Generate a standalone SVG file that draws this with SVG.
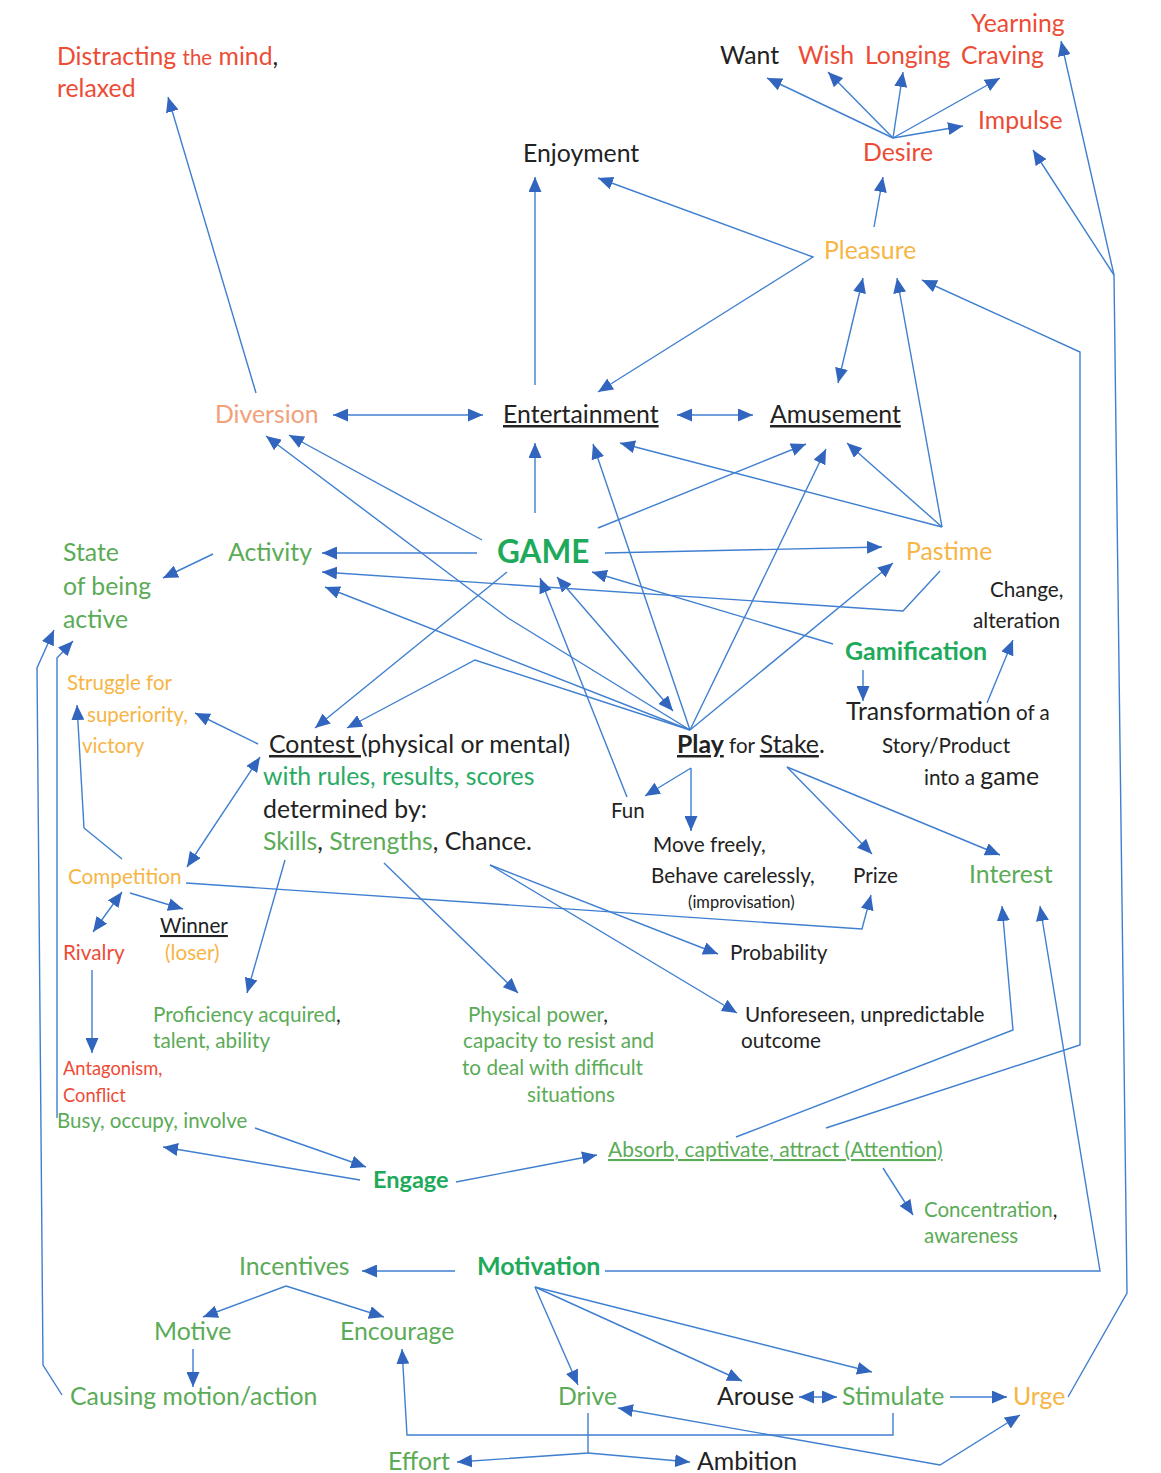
<svg xmlns="http://www.w3.org/2000/svg" width="1161" height="1473" viewBox="0 0 1161 1473">
<style>
text{font-family:Lato,"Open Sans","Liberation Sans",sans-serif;font-size:24.8px}
.red{fill:#EE4B35}.org{fill:#F6B545}.sal{fill:#F2A07A}.grn{fill:#5BAB57}.bgr{fill:#1EAA5A;font-weight:bold}.mgr{fill:#28AB63}.blk{fill:#222}
.u{text-decoration:underline}
.s20{font-size:20.7px}.s19{font-size:20.5px}.s18{font-size:18.3px}.s15{font-size:16.5px}
.c path{fill:none;stroke:#3F7FD0;stroke-width:1.4}
</style>
<defs>
<marker id="a" markerUnits="userSpaceOnUse" markerWidth="15" markerHeight="13" viewBox="0 0 15 13" refX="15" refY="6.5" orient="auto-start-reverse"><path d="M0,0 L15,6.5 L0,13 z" fill="#3266BE"/></marker>
</defs>
<rect width="1161" height="1473" fill="#fff"/>
<g class="c" id="connectors">
<path d="M256,393 L168,97" marker-end="url(#a)"/>
<path d="M893,138 L767,78" marker-end="url(#a)"/>
<path d="M893,138 L828,72" marker-end="url(#a)"/>
<path d="M893,138 L903,72" marker-end="url(#a)"/>
<path d="M893,138 L1000,78" marker-end="url(#a)"/>
<path d="M893,138 L963,126" marker-end="url(#a)"/>
<path d="M874,227 L883,177" marker-end="url(#a)"/>
<path d="M598,178 L813,257 L598,392" marker-start="url(#a)" marker-end="url(#a)"/>
<path d="M535,385 L535,177" marker-end="url(#a)"/>
<path d="M838,383 L863,278" marker-start="url(#a)" marker-end="url(#a)"/>
<path d="M942,527 L897,278" marker-end="url(#a)"/>
<path d="M826,1128 L1080,1045 L1080,352 L922,280" marker-end="url(#a)"/>
<path d="M1068,1397 L1127,1293 L1114,275 L1061,41" marker-end="url(#a)"/>
<path d="M1114,275 L1033,150" marker-end="url(#a)"/>
<path d="M333,415 L483,415" marker-start="url(#a)" marker-end="url(#a)"/>
<path d="M677,415 L753,415" marker-start="url(#a)" marker-end="url(#a)"/>
<path d="M535,513 L535,443" marker-end="url(#a)"/>
<path d="M482,540 L289,435" marker-end="url(#a)"/>
<path d="M690,730 L508,618 L266,436" marker-end="url(#a)"/>
<path d="M557,577 L673,711" marker-start="url(#a)" marker-end="url(#a)"/>
<path d="M690,730 L593,444" marker-end="url(#a)"/>
<path d="M690,730 L826,449" marker-end="url(#a)"/>
<path d="M690,730 L893,563" marker-end="url(#a)"/>
<path d="M690,730 L325,587" marker-end="url(#a)"/>
<path d="M690,730 L475,660 L347,728" marker-end="url(#a)"/>
<path d="M477,553 L322,553" marker-end="url(#a)"/>
<path d="M940,571 L903,611 L322,572" marker-end="url(#a)"/>
<path d="M605,553 L882,547" marker-end="url(#a)"/>
<path d="M598,528 L806,444" marker-end="url(#a)"/>
<path d="M942,527 L847,443" marker-end="url(#a)"/>
<path d="M942,527 L620,443" marker-end="url(#a)"/>
<path d="M833,644 L592,572" marker-end="url(#a)"/>
<path d="M863,670 L863,701" marker-end="url(#a)"/>
<path d="M987,703 L1013,640" marker-end="url(#a)"/>
<path d="M507,572 L315,728" marker-end="url(#a)"/>
<path d="M213,554 L163,578" marker-end="url(#a)"/>
<path d="M258,744 L195,713" marker-end="url(#a)"/>
<path d="M122,859 L84,828 L77,705" marker-end="url(#a)"/>
<path d="M62,1395 L43,1365 L37,668 L54,630" marker-end="url(#a)"/>
<path d="M57,1118 L57,658 L73,641" marker-end="url(#a)"/>
<path d="M260,757 L187,867" marker-start="url(#a)" marker-end="url(#a)"/>
<path d="M186,883 L862,929 L871,895" marker-end="url(#a)"/>
<path d="M130,893 L183,909" marker-end="url(#a)"/>
<path d="M122,892 L93,932" marker-start="url(#a)" marker-end="url(#a)"/>
<path d="M92,970 L92,1053" marker-end="url(#a)"/>
<path d="M285,860 L247,993" marker-end="url(#a)"/>
<path d="M384,863 L518,993" marker-end="url(#a)"/>
<path d="M490,865 L718,954" marker-end="url(#a)"/>
<path d="M490,865 L737,1013" marker-end="url(#a)"/>
<path d="M691,768 L645,796" marker-end="url(#a)"/>
<path d="M691,768 L691,831" marker-end="url(#a)"/>
<path d="M787,767 L872,854" marker-end="url(#a)"/>
<path d="M787,767 L1000,855" marker-end="url(#a)"/>
<path d="M627,797 L540,578" marker-end="url(#a)"/>
<path d="M736,1137 L1013,1030 L1002,906" marker-end="url(#a)"/>
<path d="M605,1271 L1100,1271 L1040,906" marker-end="url(#a)"/>
<path d="M255,1128 L366,1167" marker-end="url(#a)"/>
<path d="M360,1180 L163,1147" marker-end="url(#a)"/>
<path d="M456,1182 L597,1155" marker-end="url(#a)"/>
<path d="M883,1168 L913,1215" marker-end="url(#a)"/>
<path d="M455,1271 L362,1271" marker-end="url(#a)"/>
<path d="M286,1286 L203,1317" marker-end="url(#a)"/>
<path d="M286,1286 L384,1317" marker-end="url(#a)"/>
<path d="M193,1349 L193,1387" marker-end="url(#a)"/>
<path d="M535,1287 L578,1385" marker-end="url(#a)"/>
<path d="M535,1287 L742,1381" marker-end="url(#a)"/>
<path d="M535,1287 L872,1372" marker-end="url(#a)"/>
<path d="M799,1397 L837,1397" marker-start="url(#a)" marker-end="url(#a)"/>
<path d="M950,1397 L1007,1397" marker-end="url(#a)"/>
<path d="M893,1413 L893,1435 L407,1435 L402,1349" marker-end="url(#a)"/>
<path d="M618,1408 L940,1465 L1020,1415" marker-start="url(#a)" marker-end="url(#a)"/>
<path d="M588,1413 L588,1453 L457,1462" marker-end="url(#a)"/>
<path d="M588,1453 L690,1462" marker-end="url(#a)"/>
</g>
<g id="n_distract"><text x="57" y="65" class="red">Distracting <tspan class="s19">the</tspan> mind<tspan class="blk">,</tspan></text><text x="57" y="97" class="red">relaxed</text></g>
<g id="n_want"><text x="720" y="64" class="blk">Want</text></g>
<g id="n_wish"><text x="798" y="64" class="red">Wish</text></g>
<g id="n_longing"><text x="865" y="64" class="red">Longing</text></g>
<g id="n_craving"><text x="961" y="64" class="red">Craving</text></g>
<g id="n_yearning"><text x="971" y="32" class="red">Yearning</text></g>
<g id="n_impulse"><text x="978" y="129" class="red">Impulse</text></g>
<g id="n_desire"><text x="863" y="161" class="red">Desire</text></g>
<g id="n_enjoyment"><text x="523" y="162" class="blk">Enjoyment</text></g>
<g id="n_pleasure"><text x="824" y="259" class="org">Pleasure</text></g>
<g id="n_diversion"><text x="215" y="423" class="sal">Diversion</text></g>
<g id="n_entertainment"><text x="503" y="423" class="blk u">Entertainment</text></g>
<g id="n_amusement"><text x="770" y="423" class="blk u">Amusement</text></g>
<g id="n_game"><text x="497" y="563" class="bgr" style="font-size:31.5px">GAME</text></g>
<g id="n_activity"><text x="228" y="561" class="grn">Activity</text></g>
<g id="n_state"><text x="63" y="561" class="grn">State</text><text x="63" y="595" class="grn">of being</text><text x="63" y="628" class="grn">active</text></g>
<g id="n_pastime"><text x="906" y="560" class="org">Pastime</text></g>
<g id="n_change"><text x="990" y="597" class="blk s20">Change,</text><text x="973" y="628" class="blk s20">alteration</text></g>
<g id="n_gamification"><text x="845" y="660" class="bgr" style="font-size:25px">Gamification</text></g>
<g id="n_transformation"><text x="846" y="720" class="blk">Transformation<tspan class="s19"> of a</tspan></text><text x="882" y="753" class="blk s20">Story/Product</text><text x="924" y="785" class="blk s20">into a <tspan style="font-size:24.8px">game</tspan></text></g>
<g id="n_struggle"><text x="67" y="690" class="org s19">Struggle for</text><text x="87" y="722" class="org s19">superiority,</text><text x="82" y="753" class="org s19">victory</text></g>
<g id="n_contest"><text x="269" y="753" class="blk"><tspan class="u">Contest </tspan>(physical or mental)</text><text x="263" y="785" class="mgr">with rules, results, scores</text><text x="263" y="818" class="blk">determined by:</text><text x="263" y="850" class="blk"><tspan class="grn">Skills</tspan>, <tspan class="grn">Strengths</tspan>, Chance.</text></g>
<g id="n_play"><text x="677" y="753" class="blk"><tspan class="u" font-weight="bold">Play</tspan><tspan class="s19"> for </tspan><tspan class="u">Stake</tspan>.</text></g>
<g id="n_fun"><text x="611" y="818" class="blk s19">Fun</text></g>
<g id="n_move"><text x="653" y="852" class="blk s20">Move freely,</text><text x="651" y="883" class="blk s20">Behave carelessly,</text><text x="688" y="908" class="blk s15">(improvisation)</text></g>
<g id="n_prize"><text x="853" y="883" class="blk s20">Prize</text></g>
<g id="n_interest"><text x="969" y="883" class="grn">Interest</text></g>
<g id="n_competition"><text x="68" y="884" class="org s20">Competition</text></g>
<g id="n_winner"><text x="160" y="933" class="blk s20 u">Winner</text><text x="165" y="960" class="org s20">(loser)</text></g>
<g id="n_rivalry"><text x="63" y="960" class="red s20">Rivalry</text></g>
<g id="n_probability"><text x="730" y="960" class="blk s20">Probability</text></g>
<g id="n_proficiency"><text x="153" y="1022" class="grn s20">Proficiency acquired<tspan class="blk">,</tspan></text><text x="153" y="1048" class="grn s20">talent, ability</text></g>
<g id="n_physical"><text x="468" y="1022" class="grn s20">Physical power<tspan class="blk">,</tspan></text><text x="463" y="1048" class="grn s20">capacity to resist and</text><text x="462" y="1075" class="grn s20">to deal with difficult</text><text x="527" y="1102" class="grn s20">situations</text></g>
<g id="n_unforeseen"><text x="745" y="1022" class="blk s20">Unforeseen, unpredictable</text><text x="741" y="1048" class="blk s20">outcome</text></g>
<g id="n_antagonism"><text x="63" y="1075" class="red s18">Antagonism,</text><text x="63" y="1102" class="red s18">Conflict</text></g>
<g id="n_busy"><text x="57" y="1128" class="grn s19">Busy, occupy, involve</text></g>
<g id="n_engage"><text x="373" y="1188" class="bgr" style="font-size:23.5px">Engage</text></g>
<g id="n_absorb"><text x="608" y="1157" class="grn u" style="font-size:21px">Absorb, captivate, attract (Attention)</text></g>
<g id="n_concentration"><text x="924" y="1217" class="grn s19">Concentration<tspan class="blk">,</tspan></text><text x="924" y="1243" class="grn s19">awareness</text></g>
<g id="n_incentives"><text x="239" y="1275" class="grn">Incentives</text></g>
<g id="n_motivation"><text x="477" y="1275" class="bgr" style="font-size:25px">Motivation</text></g>
<g id="n_motive"><text x="154" y="1340" class="grn">Motive</text></g>
<g id="n_encourage"><text x="340" y="1340" class="grn">Encourage</text></g>
<g id="n_causing"><text x="70" y="1405" class="grn">Causing motion/action</text></g>
<g id="n_drive"><text x="558" y="1405" class="grn">Drive</text></g>
<g id="n_arouse"><text x="717" y="1405" class="blk">Arouse</text></g>
<g id="n_stimulate"><text x="842" y="1405" class="grn">Stimulate</text></g>
<g id="n_urge"><text x="1013" y="1405" class="org">Urge</text></g>
<g id="n_effort"><text x="388" y="1470" class="grn">Effort</text></g>
<g id="n_ambition"><text x="697" y="1470" class="blk">Ambition</text></g>
</svg>
